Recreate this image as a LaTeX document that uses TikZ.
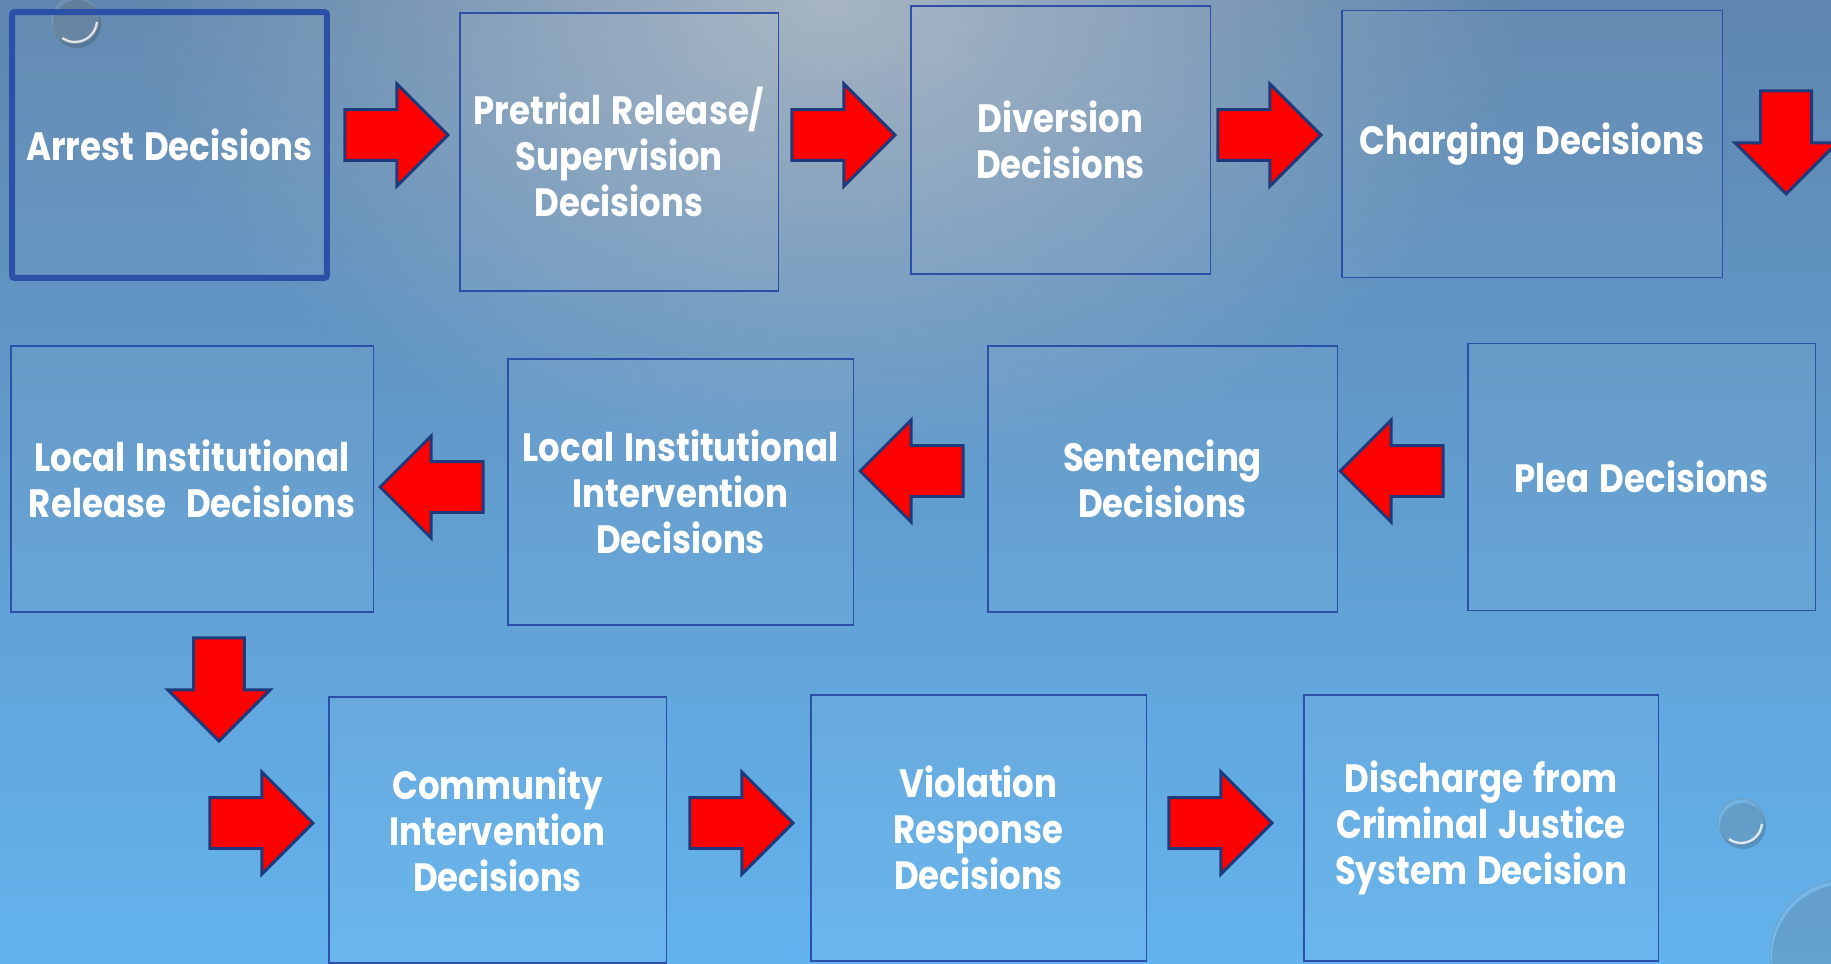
\documentclass[tikz,border=0pt]{standalone}
\usepackage{fontspec}
\newfontfamily\decfont{Poppins}[FakeStretch=0.86, WordSpace=1.4]
\usetikzlibrary{shapes.arrows,fadings}

\definecolor{bgtop}{HTML}{5F86AE}
\definecolor{bgmid}{HTML}{6392BF}
\definecolor{bgbot}{HTML}{63B3EE}
\definecolor{glow}{HTML}{A7B5C3}
\definecolor{boxline}{HTML}{2C50A8}
\definecolor{arrowline}{HTML}{1F3A7A}

\tikzfading[name=glowfade, inner color=transparent!0, outer color=transparent!100]

\tikzset{
  decision/.style={draw=boxline, line width=1.1pt, fill=white, fill opacity=0.04, text opacity=1,
    text=white, align=center, inner sep=0pt,
    font=\decfont\bfseries\fontsize{22.5}{26.3}\selectfont},
  rarrow/.style={single arrow, draw=arrowline, fill=red, line width=1.7pt,
    single arrow head extend=0.51cm, single arrow tip angle=90,
    inner xsep=0pt, inner ysep=0.48cm, minimum height=2.06cm},
  larrow/.style={rarrow, shape border rotate=180},
  darrow/.style={rarrow, shape border rotate=270, inner xsep=0.48cm, inner ysep=0pt},
}

\begin{document}
\begin{tikzpicture}[x=0.02cm, y=-0.02cm]
\useasboundingbox (0,0) rectangle (1831,963);
\clip (0,0) rectangle (1831,963);

% background
\shade[top color=bgtop, middle color=bgmid, bottom color=bgbot] (0,0) rectangle (1831,963);
\fill[glow, path fading=glowfade] (830,0) ellipse[x radius=700, y radius=480];

% water drops
\foreach \bx/\by/\br in {75/20/24, 1741/822/23, 1845/955/75} {
  \fill[black, opacity=0.15] (\bx+2,\by+4) circle[radius=\br*0.02cm];
  \fill[white, opacity=0.10] (\bx,\by) circle[radius=\br*0.02cm];
  \draw[black!50, opacity=0.35, line width=0.6pt] (\bx,\by) circle[radius=\br*0.02cm];
  \draw[white, opacity=0.8, line width=1.3pt] (\bx,\by) ++(-5:\br*0.02cm-0.04cm)
    arc[start angle=-5, end angle=-125, radius=\br*0.02cm-0.04cm];
}

% decision boxes
\node[decision, line width=3.4pt, rounded corners=1.5pt, minimum width=6.3cm, minimum height=5.32cm] (arrest) at (169.5,145) {Arrest Decisions};
\node[decision, minimum width=6.38cm, minimum height=5.56cm] (pretrial) at (619,152) {Pretrial Release/\\Supervision\\Decisions};
\node[decision, minimum width=6.0cm, minimum height=5.36cm] (diversion) at (1060.5,140) {Diversion\\Decisions};
\node[decision, minimum width=7.62cm, minimum height=5.34cm] (charging) at (1532,144) {Charging Decisions};

\node[decision, minimum width=7.26cm, minimum height=5.32cm] (release) at (192,479) {Local Institutional\\Release\ \ Decisions};
\node[decision, minimum width=6.92cm, minimum height=5.32cm] (intervention) at (680.5,492) {Local Institutional\\Intervention\\Decisions};
\node[decision, minimum width=7.0cm, minimum height=5.32cm] (sentencing) at (1162.5,479) {Sentencing\\Decisions};
\node[decision, minimum width=6.96cm, minimum height=5.34cm] (plea) at (1641.5,477) {Plea Decisions};

\node[decision, minimum width=6.76cm, minimum height=5.32cm] (community) at (497.5,830) {Community\\Intervention\\Decisions};
\node[decision, minimum width=6.72cm, minimum height=5.32cm] (violation) at (978.5,828) {Violation\\Response\\Decisions};
\node[decision, minimum width=7.1cm, minimum height=5.32cm] (discharge) at (1481,828) {Discharge from\\Criminal Justice\\System Decision};

% block arrows
\node[rarrow, anchor=tip] (a1) at (450,135) {};
\node[rarrow, anchor=tip] (a2) at (897,135) {};
\node[rarrow, anchor=tip] (a3) at (1323,135) {};
\node[darrow, anchor=tip] (a4) at (1786,196) {};
\node[larrow, anchor=tip] (a5) at (1338,471) {};
\node[larrow, anchor=tip] (a6) at (858,471) {};
\node[larrow, anchor=tip] (a7) at (378,487) {};
\node[darrow, anchor=tip] (a8) at (219,743) {};
\node[rarrow, anchor=tip] (a9) at (315,823) {};
\node[rarrow, anchor=tip] (a10) at (795,823) {};
\node[rarrow, anchor=tip] (a11) at (1274,823) {};

\end{tikzpicture}
\end{document}
